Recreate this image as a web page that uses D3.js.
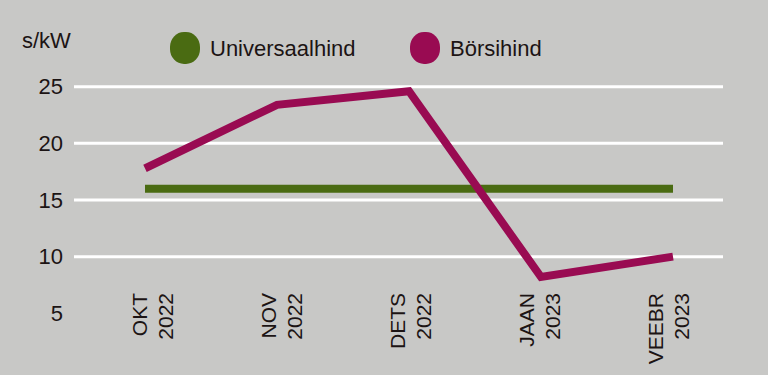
<!DOCTYPE html>
<html><head><meta charset="utf-8">
<script src="https://cdn.jsdelivr.net/npm/d3@7"></script>
<style>html,body{margin:0;padding:0;background:#c8c8c6;}svg{display:block;}</style>
</head><body><svg id="c" width="768" height="375"></svg>
<script>
const months = ["OKT", "NOV", "DETS", "JAAN", "VEEBR"];
const years = ["2022", "2022", "2022", "2023", "2023"];
const universaal = [16, 16, 16, 16, 16];
const borsi = [17.8, 23.4, 24.6, 8.2, 10.0];
const yTicks = [5, 10, 15, 20, 25];
const gridTicks = [10, 15, 20, 25];
const seriesNames = ["Universaalhind", "Börsihind"];
const colors = ["#4a6b12", "#990b52"];

const svg = d3.select("#c");
const font = "'Liberation Sans', Arial, sans-serif";
const txt = "#1c1414";
svg.append("rect").attr("width",768).attr("height",375).attr("fill","#c8c8c6");

const y = d3.scaleLinear().domain([5,25]).range([313.3, 86.7]);
const x = d3.scalePoint().domain(months).range([145, 673]);
const xl = d3.scalePoint().domain(months).range([152, 668]);

// grid
svg.append("g").selectAll("line").data(gridTicks).join("line")
  .attr("x1",74).attr("x2",723)
  .attr("y1",d=>y(d)).attr("y2",d=>y(d))
  .attr("stroke","#ffffff").attr("stroke-width",3);

// y axis labels
const yAxis = d3.axisLeft(y).tickValues(yTicks).tickSize(0).tickPadding(0);
const gy = svg.append("g").attr("transform","translate(63,0)").call(yAxis);
gy.select(".domain").remove();
gy.selectAll("text").attr("font-family",font).attr("font-size",22).attr("fill",txt);

svg.append("text").attr("x",22).attr("y",48).text("s/kW")
  .attr("font-family",font).attr("font-size",22).attr("fill",txt);

// x labels
const gx = svg.append("g");
months.forEach((m,i)=>{
  const cx = xl(m);
  const t = gx.append("text")
    .attr("transform",`translate(${cx},293) rotate(-90)`)
    .attr("text-anchor","end").attr("font-family",font).attr("font-size",21).attr("fill",txt);
  t.append("tspan").attr("x",0).attr("y",-5.5).text(m);
  t.append("tspan").attr("x",0).attr("y",20.5).text(years[i]);
});

// lines
const line = d3.line().x((d,i)=>x(months[i])).y(d=>y(d));
svg.append("path").datum(universaal).attr("d",line)
  .attr("fill","none").attr("stroke",colors[0]).attr("stroke-width",8).attr("stroke-linecap","butt");
svg.append("path").datum(borsi).attr("d",line)
  .attr("fill","none").attr("stroke",colors[1]).attr("stroke-width",8)
  .attr("stroke-linecap","butt").attr("stroke-linejoin","miter");

// legend
const legX = [185, 425];
seriesNames.forEach((n,i)=>{
  svg.append("rect").attr("x",legX[i]-15).attr("y",48-16).attr("width",30).attr("height",32)
    .attr("rx",14).attr("ry",15).attr("fill",colors[i]);
  svg.append("text").attr("x",legX[i]+25).attr("y",56).text(n)
    .attr("font-family",font).attr("font-size",22).attr("fill",txt);
});
</script></body></html>
